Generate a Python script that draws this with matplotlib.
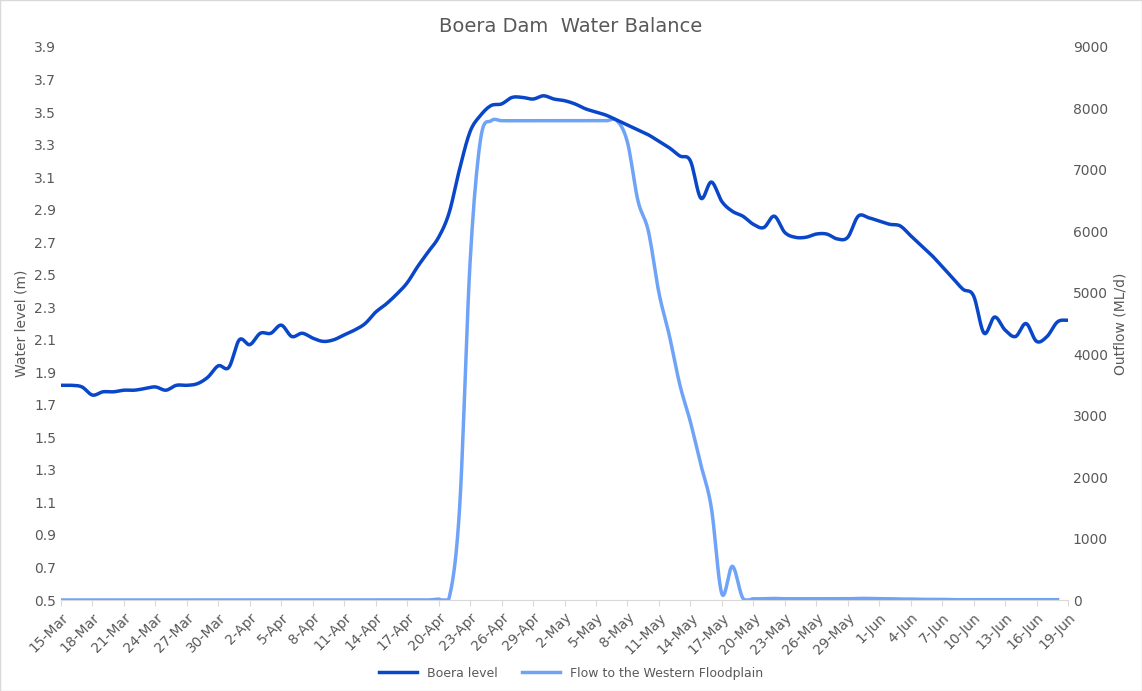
import numpy as np
import matplotlib
matplotlib.use("Agg")
import matplotlib.pyplot as plt
import datetime as dt

start = dt.date(2023, 3, 15)
level = [1.82,1.82,1.81,1.76,1.78,1.78,1.79,1.79,1.80,1.81,1.79,1.82,1.82,1.83,1.87,1.94,1.93,
         2.10,2.07,2.14,2.14,2.19,2.12,2.14,2.11,2.09,2.10,2.13,2.16,2.20,2.27,2.32,2.38,2.45,2.55,2.64,2.73,2.88,3.15,3.38,3.48,3.54,3.55,3.59,3.59,3.58,3.60,
         3.58,3.57,3.55,3.52,3.50,3.48,3.45,3.42,3.39,3.36,3.32,3.28,3.23,3.20,2.97,3.07,2.95,2.89,2.86,2.81,2.79,2.86,2.76,2.73,2.73,2.75,2.75,2.72,2.73,2.86,2.85,
         2.83,2.81,2.80,2.74,2.68,2.62,2.55,2.48,2.41,2.37,2.14,2.24,2.16,2.12,2.20,2.09,2.12,2.21,2.22]
flow = [0]*36 + [15,30,1500,5500,7500,7800,7800,7800,7800,7800,7800,7800,7800,7800,7800,7800,7800,7800,
        7450,6500,6000,5000,4300,3500,2900,2200,1500,100,550,30,20,20,25,20,20,20,20,20,20,20,25,25,20,20,15,15,10,10,10,5,5,5,5,5,5,5,5,5,5,5]
flow = flow[:len(level)]
dates = [start + dt.timedelta(days=i) for i in range(len(level))]
labels = [f"{d.day}-{d.strftime('%b')}" for d in dates]

def smooth(y, n=10):
    y = np.asarray(y, float)
    p = np.concatenate([[y[0]], y, [y[-1]]])
    xs, ys = [], []
    for i in range(1, len(p) - 2):
        t = np.linspace(0, 1, n, endpoint=False)
        p0, p1, p2, p3 = p[i-1], p[i], p[i+1], p[i+2]
        v = 0.5*((2*p1) + (-p0+p2)*t + (2*p0-5*p1+4*p2-p3)*t**2 + (-p0+3*p1-3*p2+p3)*t**3)
        xs.append(i - 1 + t); ys.append(v)
    xs.append([len(y)-1]); ys.append([y[-1]])
    return np.concatenate(xs), np.concatenate(ys)

grey = "#595959"
fig = plt.figure(figsize=(11.42, 6.91), dpi=100)
ax = fig.add_axes([61/1142, 1-600/691, (1068-61)/1142, 553/691])
ax2 = ax.twinx()
x1, y1 = smooth(level)
x2, y2 = smooth(flow)
y2 = np.clip(y2, 0, None)
l1, = ax.plot(x1, y1, color="#0A47C8", lw=2.5, label="Boera level")
l2, = ax2.plot(x2, y2, color="#6FA3F7", lw=2.5, label="Flow to the Western Floodplain")
ax.set_zorder(ax2.get_zorder() + 1); ax.patch.set_visible(False)
ax.set_xlim(0, len(level) - 1)
ax.set_ylim(0.5, 3.9); ax.set_yticks(np.arange(0.5, 3.91, 0.2))
ax.set_yticklabels([f"{v:.1f}" for v in np.arange(0.5, 3.91, 0.2)])
ax2.set_ylim(0, 9000); ax2.set_yticks(range(0, 9001, 1000))
ax.set_xticks(range(0, len(level), 3))
ax.set_xticklabels(labels[::3], rotation=45, ha="right", rotation_mode="anchor")
for a in (ax, ax2):
    for s in a.spines.values(): s.set_visible(False)
    a.tick_params(colors=grey, labelsize=10, length=0)
ax.spines["bottom"].set_visible(True); ax.spines["bottom"].set_color("#D9D9D9")
ax.tick_params(axis="x", length=4, color="#D9D9D9")
ax.set_ylabel("Water level (m)", color=grey, fontsize=10)
ax2.set_ylabel("Outflow (ML/d)", color=grey, fontsize=10)
fig.suptitle("Boera Dam  Water Balance", x=0.5, y=0.975, color=grey, fontsize=14)
fig.legend(handles=[l1, l2], loc="lower center", bbox_to_anchor=(0.5, 0.0), ncol=2, frameon=False,
           fontsize=9, labelcolor=grey, handlelength=3)
fig.patches.append(plt.Rectangle((0, 0), 1, 1, transform=fig.transFigure, fill=False, ec="#D9D9D9", lw=1))
fig.savefig("out.png", dpi=100)
